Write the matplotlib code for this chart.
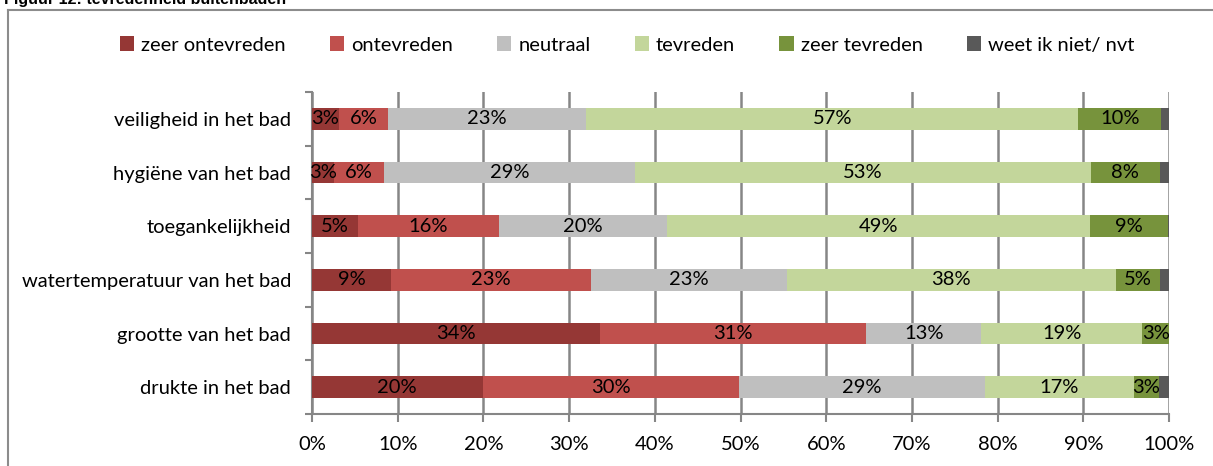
import numpy as np
import matplotlib
matplotlib.use("Agg")
import matplotlib.pyplot as plt
from matplotlib.lines import Line2D

plt.rcParams['font.family'] = ['Lato', 'DejaVu Sans']

# aspecten, van boven naar beneden
aspecten = ["veiligheid in het bad", "hygiëne van het bad", "toegankelijkheid",
            "watertemperatuur van het bad", "grootte van het bad", "drukte in het bad"]
categorieen = ["zeer ontevreden", "ontevreden", "neutraal", "tevreden",
               "zeer tevreden", "weet ik niet/ nvt"]

zeer_ontevreden = [3.1, 2.6, 5.4, 9.2, 33.6, 19.9]
ontevreden = [5.8, 5.8, 16.4, 23.4, 31.1, 29.9]
neutraal = [23.1, 29.3, 19.6, 22.8, 13.4, 28.7]
tevreden = [57.4, 53.2, 49.4, 38.4, 18.8, 17.4]
zeer_tevreden = [9.7, 8.0, 9.1, 5.2, 3.1, 2.9]
weet_niet = [0.9, 1.1, 0.1, 1.0, 0.0, 1.2]

kleuren = ["#953735", "#c0504d", "#bfbfbf", "#c3d69b", "#77933c", "#595959"]
xticks = [0, 10, 20, 30, 40, 50, 60, 70, 80, 90, 100]

series = [zeer_ontevreden, ontevreden, neutraal, tevreden, zeer_tevreden, weet_niet]

fig = plt.figure(figsize=(12.13, 4.66), dpi=100)
ax = fig.add_axes([312 / 1213, 1 - 414 / 466, (1169 - 312) / 1213, (414 - 92) / 466])

fs = 14.5
y = np.arange(len(aspecten))
links = np.zeros(len(aspecten))
for i, (vals, kleur, naam) in enumerate(zip(series, kleuren, categorieen)):
    vals = np.array(vals)
    bars = ax.barh(y, vals, left=links, height=0.4, color=kleur, label=naam, zorder=3)
    if i < 5:
        ax.bar_label(bars, labels=["%d%%" % round(v) for v in vals],
                     label_type='center', fontsize=fs, color='black', zorder=4)
    links += vals

ax.set_xlim(0, 100)
ax.set_ylim(len(aspecten) - 0.5, -0.5)
ax.set_xticks(xticks)
ax.set_xticklabels(["%d%%" % t for t in xticks], fontsize=fs)
ax.set_yticks(y)
ax.set_yticklabels(aspecten, fontsize=fs)
ax.set_yticks(np.arange(len(aspecten) + 1) - 0.5, minor=True)

grijs = "#868686"
ax.grid(axis='x', color=grijs, linewidth=1.8, zorder=0)
ax.tick_params(axis='y', which='major', length=0, pad=15)
ax.tick_params(axis='y', which='minor', length=5, width=1.5, color=grijs, direction='out')
ax.tick_params(axis='x', length=6, width=1.5, color=grijs, pad=10)
for s in ['top', 'right']:
    ax.spines[s].set_visible(False)
for s in ['left', 'bottom']:
    ax.spines[s].set_color(grijs)
    ax.spines[s].set_linewidth(1.5)

fig.legend(loc='center', bbox_to_anchor=(627 / 1213, 1 - 45 / 466), ncol=6,
           frameon=False, fontsize=fs, handlelength=0.7, handleheight=0.7,
           handletextpad=0.35, columnspacing=2.2)

# kader rond de figuur
fig.add_artist(Line2D([8 / 1213, 1], [1 - 10 / 466, 1 - 10 / 466], color="#8c8c8c", linewidth=1.5))
fig.add_artist(Line2D([8 / 1213, 8 / 1213], [0, 1 - 10 / 466], color="#8c8c8c", linewidth=1.5))

fig.text(4 / 1213, 1 - 4 / 466, "Figuur 12: tevredenheid buitenbaden", fontsize=11.5,
         fontweight='bold', family='Liberation Sans', va='baseline', ha='left')

fig.savefig("out.png", dpi=100)
